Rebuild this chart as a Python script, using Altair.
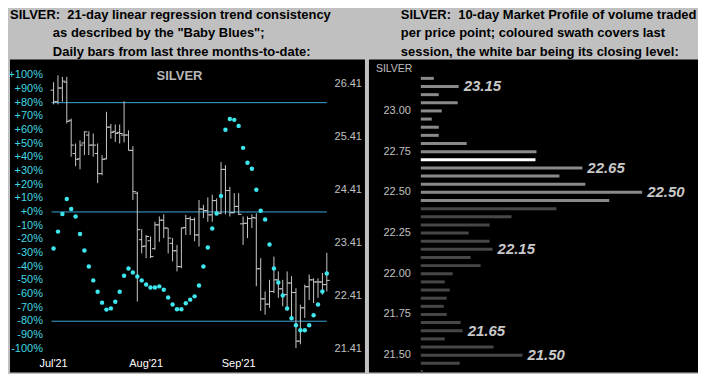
import altair as alt
import pandas as pd

# ---------------- Left panel data: daily OHLC (Jul..Sep 2021) ----------------
opens = [26.30, 26.08, 26.34, 26.45, 25.73, 25.10, 25.00, 25.30, 25.45, 25.26,
         25.10, 24.72, 25.00, 25.60, 25.52, 25.50, 25.45, 25.45, 25.16, 24.35,
         23.47, 23.35, 23.45, 23.30, 23.75, 23.84, 23.69, 23.40, 23.26, 22.96,
         23.70, 23.87, 23.85, 23.56, 24.05, 24.02, 23.94, 24.21, 23.97, 24.80,
         24.40, 23.98, 24.10, 23.77, 23.78, 23.87, 23.88, 22.92, 22.35, 22.25,
         22.49, 22.71, 22.54, 22.43, 22.65, 22.47, 21.55, 22.18, 22.58, 22.71,
         22.67, 22.67, 22.62]
highs = [26.45, 26.58, 26.55, 26.55, 25.76, 25.29, 25.35, 25.52, 25.52, 25.48,
         25.29, 25.07, 25.89, 25.66, 25.65, 25.65, 26.09, 25.54, 25.24, 24.38,
         23.67, 23.56, 23.53, 23.81, 23.91, 23.95, 23.69, 23.50, 23.37, 23.70,
         23.94, 23.91, 23.89, 24.22, 24.13, 24.27, 24.32, 24.25, 24.94, 24.88,
         24.47, 24.35, 24.35, 23.91, 23.91, 23.95, 23.97, 23.12, 22.49, 22.71,
         23.15, 22.87, 22.71, 22.87, 22.78, 22.55, 22.24, 22.62, 22.81, 22.74,
         22.74, 22.84, 23.22]
lows = [26.03, 26.03, 26.08, 25.67, 25.04, 24.86, 24.80, 25.07, 25.07, 25.04,
        24.54, 24.69, 24.99, 25.38, 25.32, 25.29, 25.31, 25.16, 24.22, 22.30,
        23.21, 23.12, 23.12, 23.28, 23.43, 23.50, 23.21, 23.06, 22.87, 22.93,
        23.56, 23.56, 23.44, 23.34, 23.88, 23.81, 23.81, 23.94, 23.95, 23.95,
        23.91, 23.97, 23.94, 23.37, 23.50, 23.69, 22.59, 22.12, 22.05, 22.18,
        22.46, 22.37, 22.21, 22.12, 21.99, 21.42, 21.49, 21.99, 22.33, 22.27,
        22.37, 22.43, 22.49]
closes = [26.08, 26.34, 26.47, 25.71, 25.26, 24.99, 25.26, 25.51, 25.26, 25.26,
          24.72, 24.99, 25.60, 25.50, 25.48, 25.48, 25.45, 25.16, 24.38, 23.66,
          23.34, 23.53, 23.15, 23.75, 23.84, 23.69, 23.50, 23.26, 22.96, 23.69,
          23.87, 23.85, 23.56, 24.05, 24.02, 23.94, 24.21, 23.97, 24.80, 24.40,
          23.98, 24.10, 23.95, 23.78, 23.87, 23.89, 22.92, 22.35, 22.25, 22.49,
          22.71, 22.54, 22.43, 22.65, 22.47, 21.55, 22.18, 22.58, 22.71, 22.67,
          22.67, 22.62, 22.70]
# "Baby Blues": 21-day linear regression trend consistency (%)
blues = [-26.8, -14.4, -1.5, 9.5, 2.2, -3.4, -16.1, -28.2, -39.9, -50.1,
         -58.4, -66.4, -71.5, -70.6, -65.7, -58.4, -46.7, -41.4, -44.3, -47.2,
         -50.1, -53.1, -55.3, -55.3, -54.5, -56.9, -62.6, -67.7, -71.3, -71.3,
         -66.9, -64.2, -61.8, -53.8, -39.9, -26.1, -12.2, -1.2, 11.7, 60.1,
         68.1, 67.4, 63.0, 46.9, 36.0, 31.6, 16.3, 0.9, -5.6, -23.9,
         -41.4, -51.6, -61.1, -70.6, -77.9, -83.0, -86.6, -86.6, -83.0, -75.7,
         -67.7, -58.2, -45.0]
month_labels = ["Jul'21", "Aug'21", "Sep'21"]
month_index = [0, 21, 42]
pct_ticks = [100, 90, 80, 70, 60, 50, 40, 30, 20, 10, 0,
             -10, -20, -30, -40, -50, -60, -70, -80, -90, -100]
price_ticks = [26.41, 25.41, 24.41, 23.41, 22.41, 21.41]
band_levels = [80, 0, -80]
left_title_lines = ["SILVER:\u00a0\u00a021-day linear regression trend consistency",
                    "as described by the \"Baby Blues\";",
                    "Daily bars from last three months-to-date:"]

# ---------------- Right panel data: 10-day market profile ----------------
profile_prices = [23.20, 23.15, 23.10, 23.05, 23.00, 22.95, 22.90, 22.85, 22.80,
                  22.75, 22.70, 22.65, 22.60, 22.55, 22.50, 22.45, 22.40, 22.35,
                  22.30, 22.25, 22.20, 22.15, 22.10, 22.05, 22.00, 21.95, 21.90,
                  21.85, 21.80, 21.75, 21.70, 21.65, 21.60, 21.55, 21.50, 21.45, 21.40]
profile_volume = [13, 38, 18, 37, 21, 11, 18, 18, 46,
                  116, 115, 162, 139, 165, 222, 189, 136, 91,
                  69, 48, 69, 72, 50, 60, 32, 24, 29,
                  26, 23, 26, 40, 42, 24, 73, 102, 39, 2]
profile_ticks = [23.00, 22.75, 22.50, 22.25, 22.00, 21.75, 21.50]
peak_labels = [23.15, 22.65, 22.50, 22.15, 21.65, 21.50]
session_low, session_high = 22.45, 23.20
close_level = 22.70
right_title_lines = ["SILVER:\u00a0\u00a010-day Market Profile of volume traded",
                     "per price point; coloured swath covers last",
                     "session, the white bar being its closing level:"]

# ---------------- styles ----------------
FONT = "Liberation Sans"
BG = "#C0C0C0"
BAR = "#C8C8C8"
DOT = "#3EE6EE"
LINE = "#3AA8D8"
CYAN_TXT = "#40D8E0"
GRAY_TXT = "#C0C0C0"
TITLE_SIZE = 13
TITLE_Y = [-51, -32, -13]

# ---------------- left panel ----------------
n = len(opens)
ohlc = pd.DataFrame({"i": list(range(n)), "open": opens, "high": highs,
                     "low": lows, "close": closes, "blue": blues})
bands = pd.DataFrame({"level": band_levels, "start": 0, "end": n - 1})
pct_df = pd.DataFrame({"v": pct_ticks, "label": [f"{v:+d}%" for v in pct_ticks]})
price_df = pd.DataFrame({"v": price_ticks, "label": [f"{v:.2f}" for v in price_ticks]})
month_df = pd.DataFrame({"i": month_index, "label": month_labels})

W_L, W_R, H = 356, 330, 314
xs = alt.Scale(domain=[-9.887, 70.656], nice=False, zero=False)
pct_scale = alt.Scale(domain=[-117.52, 111.68], nice=False, zero=False)
price_scale = alt.Scale(domain=[20.9572, 26.882], nice=False, zero=False)


def X(f):
    return alt.X(f, type="quantitative", scale=xs, axis=None)


def YP(f):
    return alt.Y(f, type="quantitative", scale=pct_scale, axis=None)


def YR(f):
    return alt.Y(f, type="quantitative", scale=price_scale, axis=None)


def title_layers(lines, xpos):
    out = []
    for k, (line, x0) in enumerate(zip(lines, xpos)):
        out.append(alt.Chart(pd.DataFrame({"t": [line]})).mark_text(
            align="left", baseline="top", color="black", fontSize=TITLE_SIZE,
            fontWeight="bold", font=FONT).encode(
            x=alt.value(x0), y=alt.value(TITLE_Y[k]), text="t:N"))
    return out


base = alt.Chart(ohlc)
band_layer = alt.Chart(bands).mark_rule(color=LINE, strokeWidth=1, xOffset=-2).encode(
    x=X("start"), x2="end", y=YP("level"))
hl = base.mark_rule(color=BAR, strokeWidth=1).encode(x=X("i"), y=YR("low"), y2="high")
op = base.mark_rule(color=BAR, strokeWidth=1, x2Offset=-3).encode(x=X("i"), x2="i", y=YR("open"))
cl = base.mark_rule(color=BAR, strokeWidth=1, x2Offset=3).encode(x=X("i"), x2="i", y=YR("close"))
dots = base.mark_circle(color=DOT, size=20, opacity=1).encode(x=X("i"), y=YP("blue"))
pct_txt = alt.Chart(pct_df).mark_text(align="right", baseline="middle", color=CYAN_TXT,
                                      fontSize=11, font=FONT).encode(
    x=alt.value(33), y=YP("v"), text="label:N")
price_txt = alt.Chart(price_df).mark_text(align="right", baseline="middle", color=GRAY_TXT,
                                          fontSize=11, font=FONT).encode(
    x=alt.value(353), y=YR("v"), text="label:N")
month_txt = alt.Chart(month_df).mark_text(align="center", baseline="middle", color="white",
                                          fontSize=11, font=FONT).encode(
    x=X("i"), y=alt.value(306), text="label:N")
name_txt = alt.Chart(pd.DataFrame({"t": ["SILVER"]})).mark_text(
    align="center", baseline="middle", color="#B8B8B8", fontSize=13, fontWeight="bold",
    font=FONT).encode(x=alt.value(170), y=alt.value(17), text="t:N")

left = alt.layer(band_layer, hl, op, cl, dots, pct_txt, price_txt, month_txt, name_txt,
                 *title_layers(left_title_lines, [0, 43, 43])).resolve_scale(
    y="independent").properties(width=W_L, height=H)

# ---------------- right panel ----------------
kinds = []
for p in profile_prices:
    if abs(p - close_level) < 1e-9:
        kinds.append("close")
    elif session_low - 1e-9 <= p <= session_high + 1e-9:
        kinds.append("swath")
    else:
        kinds.append("other")
prof = pd.DataFrame({"price": profile_prices, "vol": profile_volume, "base": 0, "kind": kinds})
peaks = prof[prof["price"].apply(lambda p: any(abs(p - q) < 1e-9 for q in peak_labels))].copy()
peaks["label"] = peaks["price"].map(lambda v: f"{v:.2f}")
ptick_df = pd.DataFrame({"v": profile_ticks, "label": [f"{v:.2f}" for v in profile_ticks]})

vs = alt.Scale(domain=[-52, 278], nice=False, zero=False)
ps = alt.Scale(domain=[21.3938, 23.3166], nice=False, zero=False)

bars = alt.Chart(prof).mark_rule(strokeWidth=3).encode(
    x=alt.X("base:Q", scale=vs, axis=None), x2="vol",
    y=alt.Y("price:Q", scale=ps, axis=None),
    color=alt.Color("kind:N", scale=alt.Scale(domain=["swath", "other", "close"],
                                              range=["#8A8A8A", "#474747", "#FFFFFF"]),
                    legend=None))
peak_txt = alt.Chart(peaks).mark_text(align="left", baseline="middle", dx=5, color="#C8C8C8",
                                      fontSize=15, fontWeight="bold", fontStyle="italic",
                                      font=FONT).encode(
    x=alt.X("vol:Q", scale=vs, axis=None), y=alt.Y("price:Q", scale=ps, axis=None),
    text="label:N")
ptick_txt = alt.Chart(ptick_df).mark_text(align="right", baseline="middle", color=GRAY_TXT,
                                          fontSize=11, font=FONT).encode(
    x=alt.value(42), y=alt.Y("v:Q", scale=ps, axis=None), text="label:N")
rname = alt.Chart(pd.DataFrame({"t": ["SILVER"]})).mark_text(
    align="left", baseline="middle", color=GRAY_TXT, fontSize=10.5, font=FONT).encode(
    x=alt.value(7), y=alt.value(10), text="t:N")

right = alt.layer(bars, peak_txt, ptick_txt, rname,
                  *title_layers(right_title_lines, [32, 32, 32])).properties(width=W_R, height=H)

chart = alt.hconcat(left, right, spacing=4).properties(
    background=BG, padding=0).configure_view(fill="black", stroke=None)

chart.save("out.html", embed_options={"renderer": "svg", "actions": False})
